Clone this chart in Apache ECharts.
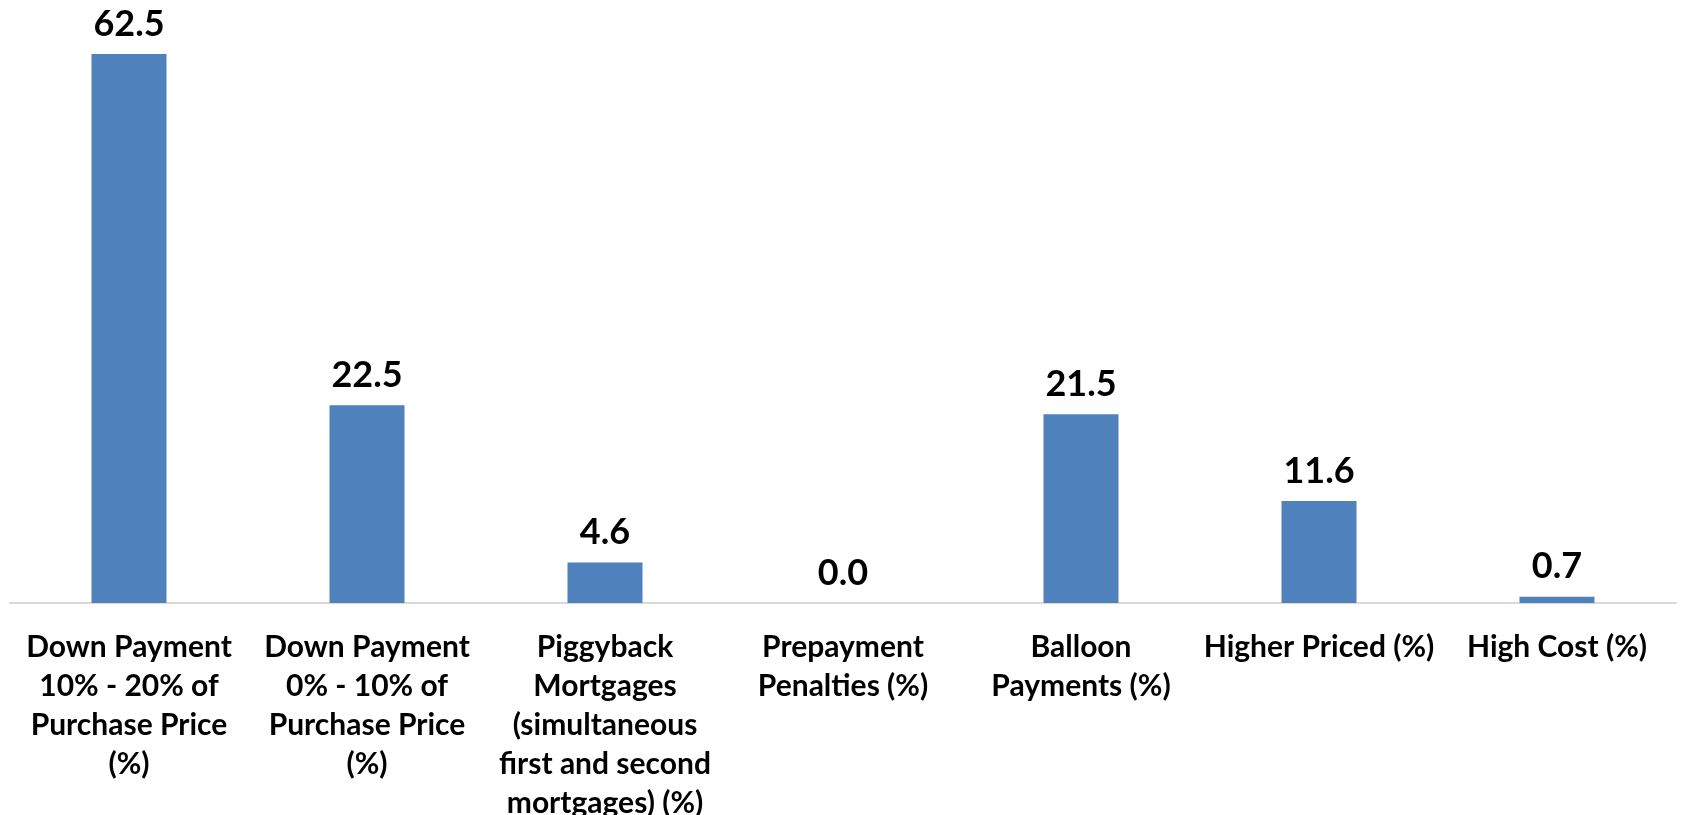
<!DOCTYPE html>
<html>
<head>
<meta charset="utf-8">
<title>Mortgage characteristics</title>
<script src="https://cdn.jsdelivr.net/npm/echarts@6/dist/echarts.min.js"></script>
<style>
  html, body { margin: 0; padding: 0; background: #fff; overflow: hidden; }
  #chart { width: 1681px; height: 815px; }
</style>
</head>
<body>
<div id="chart"></div>
<script>
// 类目（换行与原图一致）
var categories = [
  'Down Payment\n10% - 20% of\nPurchase Price\n(%)',
  'Down Payment\n0% - 10% of\nPurchase Price\n(%)',
  'Piggyback\nMortgages\n(simultaneous\nfirst and second\nmortgages) (%)',
  'Prepayment\nPenalties (%)',
  'Balloon\nPayments (%)',
  'Higher Priced (%)',
  'High Cost (%)'
];
// 数值
var values = [62.5, 22.5, 4.6, 0.0, 21.5, 11.6, 0.7];

var myChart = echarts.init(document.getElementById('chart'));
var option = {
  animation: false,
  grid: {
    left: 10,
    right: 5,
    top: 32,
    bottom: 212,
    // v6 默认会把溢出的坐标轴标签收进容器，这里关掉
    outerBoundsMode: 'none'
  },
  xAxis: {
    type: 'category',
    data: categories,
    axisTick: { show: false },
    axisLine: { lineStyle: { color: '#D9D9D9', width: 2 } },
    axisLabel: {
      interval: 0,
      margin: 25,
      color: '#000',
      fontFamily: 'Lato',
      fontWeight: 'bold',
      fontSize: 30,
      lineHeight: 39,
      align: 'center'
    }
  },
  yAxis: {
    type: 'value',
    min: 0,
    max: 65,
    show: false
  },
  series: [{
    type: 'bar',
    data: values,
    barWidth: 75,
    itemStyle: { color: '#4F81BD' },
    label: {
      show: true,
      position: 'top',
      distance: 12,
      color: '#000',
      fontFamily: 'Lato',
      fontWeight: 'bold',
      fontSize: 36,
      formatter: function (p) { return p.value.toFixed(1); }
    }
  }]
};
myChart.setOption(option);
</script>
</body>
</html>
